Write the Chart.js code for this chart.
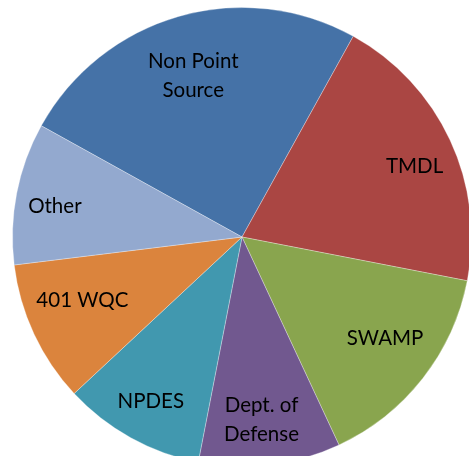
<!DOCTYPE html>
<html>
<head>
<meta charset="utf-8">
<script src="https://cdn.jsdelivr.net/npm/chart.js@4.4.1/dist/chart.umd.min.js"></script>
<style>
    html, body { margin: 0; padding: 0; background: #fff; overflow: hidden; }
    #wrap { position: absolute; left: 0; top: 0; width: 484px; height: 474px; }
</style>
</head>
<body>
<div id="wrap"><canvas id="pieChart" width="484" height="474"></canvas></div>
<script>
const categories = ['Non Point Source', 'TMDL', 'SWAMP', 'Dept. of Defense', 'NPDES', '401 WQC', 'Other'];
const values = [25, 20, 15, 10, 10, 10, 10];
const colors = ['#4572A7', '#AA4643', '#89A54E', '#71588F', '#4198AF', '#DB843D', '#93A9CF'];

// label text split into lines, like the reference
const labelLines = [['Non Point', 'Source'], ['TMDL'], ['SWAMP'], ['Dept. of', 'Defense'], ['NPDES'], ['401 WQC'], ['Other']];
// best-fit nudges: [angle offset in degrees, fraction of radius]
const labelFit = [[-0.8, 0.735], [2.8, 0.812], [-2.6, 0.765], [0.9, 0.80], [0, 0.82], [3.4, 0.748], [-1.8, 0.826]];

const sliceLabels = {
    id: 'sliceLabels',
    afterDatasetsDraw(chart) {
        const ctx = chart.ctx;
        const arcs = chart.getDatasetMeta(0).data;
        ctx.save();
        ctx.font = '20.5px Lato, "Open Sans", sans-serif';
        ctx.fillStyle = '#000';
        ctx.textAlign = 'center';
        ctx.textBaseline = 'middle';
        arcs.forEach((arc, i) => {
            const p = arc.getProps(['x', 'y', 'startAngle', 'endAngle', 'outerRadius'], true);
            const mid = (p.startAngle + p.endAngle) / 2 + labelFit[i][0] * Math.PI / 180;
            const r = p.outerRadius * labelFit[i][1];
            const cx = p.x + Math.cos(mid) * r;
            const cy = p.y + Math.sin(mid) * r;
            const lines = labelLines[i];
            const lh = 29;
            lines.forEach((t, j) => {
                ctx.fillText(t, cx, cy + (j - (lines.length - 1) / 2) * lh);
            });
        });
        ctx.restore();
    }
};

new Chart(document.getElementById('pieChart').getContext('2d'), {
    type: 'pie',
    data: {
        labels: categories,
        datasets: [{
            data: values,
            backgroundColor: colors,
            borderColor: 'rgba(255,255,255,0.3)',
            borderWidth: 1
        }]
    },
    options: {
        responsive: false,
        animation: false,
        rotation: -61,
        layout: { padding: 7 },
        plugins: {
            legend: { display: false },
            tooltip: { enabled: false }
        }
    },
    plugins: [sliceLabels]
});
</script>
</body>
</html>
